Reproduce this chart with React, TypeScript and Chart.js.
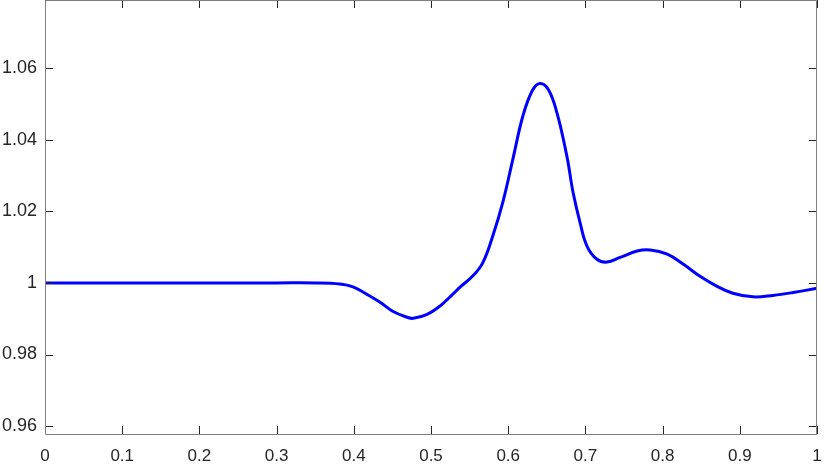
import React, { useEffect, useRef } from "react";
import { Chart, registerables } from "chart.js";
Chart.register(...registerables);

const xValues = [0, 0.1, 0.2, 0.3, 0.35, 0.382, 0.399, 0.417, 0.434, 0.451, 0.469, 0.477, 0.495, 0.512, 0.528, 0.538, 0.554, 0.567, 0.58, 0.593, 0.606, 0.619, 0.631, 0.641, 0.652, 0.663, 0.676, 0.684, 0.693, 0.702, 0.715, 0.728, 0.745, 0.767, 0.784, 0.806, 0.827, 0.848, 0.87, 0.891, 0.917, 0.943, 0.969, 1.0];
const yValues = [1, 1, 1, 1, 1, 0.9997, 0.9989, 0.9968, 0.9946, 0.992, 0.9904, 0.9901, 0.9912, 0.9936, 0.9968, 0.9989, 1.0019, 1.0056, 1.0131, 1.0225, 1.0345, 1.0466, 1.0536, 1.0557, 1.054, 1.0476, 1.0354, 1.0253, 1.0169, 1.0103, 1.0066, 1.0058, 1.0071, 1.0089, 1.0092, 1.008, 1.0052, 1.0019, 0.9991, 0.9971, 0.9961, 0.9965, 0.9973, 0.9985];
const xTicks = [0, 0.1, 0.2, 0.3, 0.4, 0.5, 0.6, 0.7, 0.8, 0.9, 1];
const yTicks = [0.96, 0.98, 1, 1.02, 1.04, 1.06];
const yMin = 0.9578;
const yMax = 1.079;

const framePlugin = {
  id: "frame",
  afterDraw(chart: any) {
    const { ctx, chartArea: a, scales } = chart;
    ctx.save();
    ctx.strokeStyle = "#262626";
    ctx.lineWidth = 1;
    const L = 8;
    ctx.beginPath();
    for (const v of xTicks) {
      const px = Math.round(scales.x.getPixelForValue(v)) + 0.5;
      ctx.moveTo(px, a.bottom);
      ctx.lineTo(px, a.bottom - L);
      ctx.moveTo(px, a.top);
      ctx.lineTo(px, a.top + L);
    }
    for (const v of yTicks) {
      const py = Math.round(scales.y.getPixelForValue(v)) + 0.5;
      ctx.moveTo(a.left, py);
      ctx.lineTo(a.left + L, py);
      ctx.moveTo(a.right, py);
      ctx.lineTo(a.right - L, py);
    }
    ctx.stroke();
    ctx.strokeStyle = "#7f7f7f";
    ctx.beginPath();
    ctx.rect(Math.round(a.left) + 0.5, Math.round(a.top) + 0.5, Math.round(a.right - a.left) - 1, Math.round(a.bottom - a.top));
    ctx.stroke();
    ctx.restore();
  },
};

const zeroPad = (s: any) => {
  s.paddingTop = 0;
  s.paddingBottom = 0;
  s.paddingLeft = 0;
  s.paddingRight = 0;
};

export default function App() {
  const ref = useRef<HTMLCanvasElement>(null);
  useEffect(() => {
    document.body.style.margin = "0";
    const data = xValues.map((x, i) => ({ x, y: yValues[i] }));
    const chart = new Chart(ref.current!, {
      type: "line",
      data: {
        datasets: [
          {
            data,
            borderColor: "#0000ff",
            borderWidth: 3,
            pointRadius: 0,
            tension: 0.4,
            fill: false,
          },
        ],
      },
      options: {
        animation: false,
        responsive: false,
        maintainAspectRatio: false,
        layout: { padding: { top: 0, right: 13, left: 0, bottom: 0 } },
        plugins: { legend: { display: false }, tooltip: { enabled: false } },
        scales: {
          x: {
            type: "linear",
            min: 0,
            max: 1,
            grid: { display: false, drawTicks: false },
            border: { display: false },
            afterBuildTicks: (s: any) => {
              s.ticks = xTicks.map((v) => ({ value: v }));
            },
            afterFit: (s: any) => {
              s.height = 33;
              zeroPad(s);
            },
            ticks: {
              color: "#262626",
              font: { family: "Liberation Sans, Arial, sans-serif", size: 17 },
              padding: 12,
              maxRotation: 0,
              callback: (v: any) => String(Math.round(Number(v) * 10) / 10),
            },
          },
          y: {
            type: "linear",
            min: yMin,
            max: yMax,
            grid: { display: false, drawTicks: false },
            border: { display: false },
            afterBuildTicks: (s: any) => {
              s.ticks = yTicks.map((v) => ({ value: v }));
            },
            afterFit: (s: any) => {
              s.width = 45;
              zeroPad(s);
            },
            ticks: {
              color: "#262626",
              font: { family: "Liberation Sans, Arial, sans-serif", size: 18 },
              padding: 8,
              callback: (v: any) => String(Math.round(Number(v) * 100) / 100),
            },
          },
        },
      },
      plugins: [framePlugin],
    } as any);
    return () => chart.destroy();
  }, []);
  return <canvas ref={ref} width={830} height={467} style={{ display: "block" }} />;
}
